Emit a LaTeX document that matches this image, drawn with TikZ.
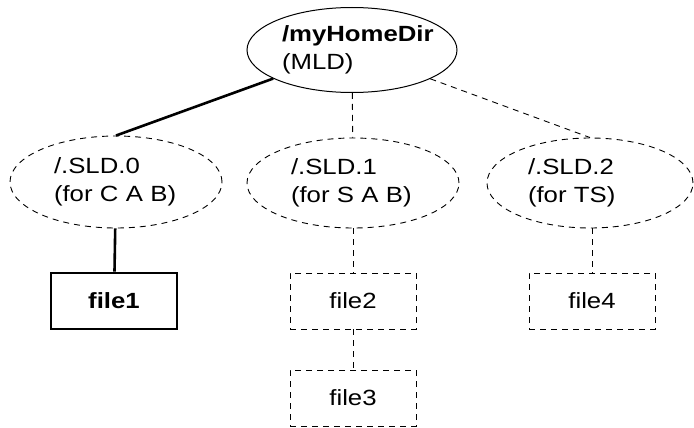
\documentclass[tikz,border=0pt]{standalone}
\usepackage{fontspec}
\setmainfont{Liberation Sans}[FakeStretch=1.17]
\usetikzlibrary{shapes,positioning}
\tikzset{thinline/.style={line width=1pt},
  dashline/.style={line width=0.9pt,dash pattern=on 6pt off 5pt},
  boldline/.style={line width=2.6pt}}
\newcommand{\drawdir}{\node[draw,ellipse,align=left,text width=124pt,inner sep=0pt]}
\newcommand{\drawfile}{\node[draw,rectangle,minimum width=126pt,minimum height=56pt]}

\begin{document}
\begin{tikzpicture}[x=1pt,y=-1pt,font=\fontsize{22}{28.5}\selectfont]
	\useasboundingbox (0,0) rectangle (694,428);
	
	\drawdir[thinline,text width=140pt,minimum width=210pt,minimum height=85pt] (mld) at (352,50) {\textbf{/myHomeDir}\\(MLD)};
	\drawdir[dashline,minimum width=212pt,minimum height=92pt] (sld0) at (116,182) {/.SLD.0\\(for C A B)};
	\drawdir[dashline,minimum width=212pt,minimum height=90pt] (sld1) at (353,183) {/.SLD.1\\(for S A B)};
	\drawdir[dashline,minimum width=206pt,minimum height=90pt] (sld2) at (590,183) {/.SLD.2\\(for TS)};
	
	\drawfile[boldline] (f1) at (114,301) {\textbf{file1}};
	\drawfile[dashline] (f2) at (353,301) {file2};
	\drawfile[dashline] (f3) at (353,398) {file3};
	\drawfile[dashline] (f4) at (592,301) {file4};
	
	\draw[boldline] (mld) -- (sld0.north);
	\draw[dashline] (mld) -- (sld1);
	\draw[dashline] (mld) -- (sld2.north);
	
	\draw[boldline] (sld0) -- (f1);
	\draw[dashline] (sld1) -- (f2);
	\draw[dashline] (f2) -- (f3);
	\draw[dashline] (sld2.south -| f4) -- (f4);
	
\end{tikzpicture}
\end{document}
